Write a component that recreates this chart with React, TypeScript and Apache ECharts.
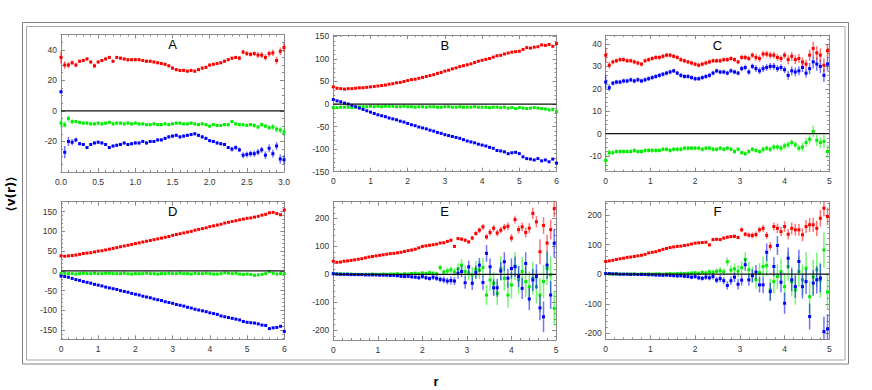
import { useEffect, useRef } from "react";
import * as echarts from "echarts";

// ---- r grids (uniform sampling step per panel) ----
const STEP_A = 0.05;
const STEP_BD = 0.1;
const STEP_CEF = 0.08;

// ---- Panel A ----
const A_RED = [35,30,30,31.5,30,32.5,33,34,32,29.5,
 32,33,34,35,32.5,35,34.5,34,33.5,33.5,
 33.5,33.5,33,32.5,32.5,32,31.5,31,30.5,29.5,
 28,27,26.5,26.5,26,26.5,26,27,28,28.5,
 30,30.5,31,31.5,32.5,33.5,34.5,35,34.5,38.5,
 37.5,37,37.5,36.5,36.5,35,37.5,38,33,39,
 41.5];
const A_GREEN = [-8,-9,-5,-7,-7,-7.5,-8,-8,-8.5,-8.5,
 -8,-8.5,-8,-7.5,-8.5,-8,-8,-8.5,-8,-8.5,
 -8,-8.5,-8.5,-9,-9,-8.5,-9,-9,-8.5,-9,
 -8.5,-8,-8,-8.5,-8.5,-8,-8.5,-9,-8.5,-9,
 -10,-9,-9.5,-9.5,-9,-9,-7,-8.5,-9,-9,
 -9.5,-9,-9.5,-10.5,-9,-10,-11,-10.5,-12,-12.5,
 -14];
const A_BLUE = [12.5,-27,-20,-20.5,-19,-21.5,-22,-24,-22,-21,
 -20.5,-21,-22,-24,-23,-22.5,-22,-21,-22,-21.5,
 -21,-21,-20,-21,-20,-20,-19,-19,-18,-17,
 -16.5,-16,-17,-16.5,-16,-15.5,-15,-16,-17,-18,
 -19.5,-20,-21,-21.5,-22,-24,-25,-24,-25.5,-29,
 -28.5,-28,-28,-27,-25.5,-29,-24.5,-28,-23,-31.5,
 -32];
const A_RED_ERR = [4,2.5,2,1.5,1.5,1,1,1,1,1.5,
 1,1,1,1,1,1,1,1,1,1,
 1,1,1,1,1,1,1,1,1,1,
 1,1,1,1,1,1,1,1,1,1,
 1,1,1,1,1,1,1,1,1.5,1.5,
 1.5,1.5,1.5,2,2,2,2,2,2.5,2.5,
 3];
const A_GREEN_ERR = [2.5,2,2,1.5,1,1,1,1,1,1,
 1,1,1,1,1,1,1,1,1,1,
 1,1,1,1,1,1,1,1,1,1,
 1,1,1,1,1,1,1,1,1,1,
 1,1,1,1,1,1,1,1,1,1,
 1,1,1.5,1.5,1.5,1.5,1.5,2,2,2,
 2.5];
const A_BLUE_ERR = [1,4,3,2,1.5,1,1,1,1,1,
 1,1,1,1,1,1,1,1,1,1,
 1,1,1,1,1,1,1,1,1,1,
 1,1,1,1,1,1,1,1,1,1,
 1,1,1,1,1,1,1.5,1.5,1.5,2,
 2,2,2,2,2,2.5,2.5,2.5,2.5,3,
 3];

// ---- Panel B ----
const B_RED = [38,35,34,33,34,34,35,36,36,37,
 38,39,40,41,42,44,45,47,48,50,
 52,54,55,57,59,61,63,65,68,70,
 73,75,78,80,83,85,87,89,92,95,
 97,99,101,104,107,108,111,113,115,116,
 117,121,125,124,126,127,131,130,132,128,
 134];
const B_GREEN = [-8,-8,-7,-7,-7,-8,-7,-6,-6,-6,
 -5,-6,-5,-6,-5,-5,-5,-6,-6,-5,
 -6,-6,-7,-6,-6,-7,-6,-6,-7,-7,
 -6,-6,-7,-7,-6,-7,-7,-7,-6,-7,
 -7,-7,-8,-7,-7,-8,-7,-9,-8,-10,
 -8,-9,-10,-9,-8,-9,-10,-11,-13,-12,
 -17];
const B_BLUE = [10,7,5,2,0,-3,-6,-9,-12,-15,
 -18,-21,-24,-26,-28,-31,-33,-35,-38,-40,
 -43,-46,-48,-51,-53,-55,-58,-60,-63,-65,
 -68,-70,-72,-74,-76,-79,-82,-84,-86,-89,
 -91,-93,-96,-98,-103,-104,-106,-110,-108,-107,
 -110,-117,-121,-122,-124,-121,-126,-124,-128,-122,
 -131];
const B_ERR = [2, 1, 2]; // red, green, blue

// ---- Panel C ----
const C_RED = [35,30.5,32,32.5,33,33,32.5,32.5,32,31.5,
 31,32.5,33,33.5,34,34,34.5,35,35,34.5,
 34,33,32.5,32,31.5,31,30.5,31,31.5,32,
 32.5,32.5,32.5,33,33,33.5,33,32,34,34,
 33.5,35,34,33.5,35.5,35.5,35,35,34,33.5,
 35,33,34.5,33,33.5,32,31,35,38,36,
 35,30.5,37];
const C_GREEN = [-12,-8.5,-8.5,-8,-8,-8,-8,-8,-7.5,-8,
 -8,-7.5,-7.5,-7.5,-7.5,-7.5,-7,-7,-7.5,-7,
 -7,-7,-6.5,-6.5,-6.5,-6.5,-6.5,-7,-6.5,-6.5,
 -7,-7,-6.5,-7,-6.5,-7,-8,-7,-8.5,-9,
 -8,-7,-7.5,-8,-7,-6.5,-7,-6,-6,-6.5,
 -5.5,-5,-4,-5,-6.5,-6,-4,-2.5,1,-3,
 -4,-3.5,-8];
const C_BLUE = [23,20.5,22.5,23,23,23.5,23.5,24,23.5,24,
 23.5,24,24.5,25,25.5,26,26.5,27,27.5,28,
 27,26,25.5,25.5,25,24.5,24.5,25,25.5,26,
 27,28,27.5,27.5,27,28,27.5,27,29,29.5,
 27.5,30,29,28,29,29.5,30,30,29,29.5,
 28.5,26,28,27.5,28,29.5,27,29,32,31,
 30,26,31];
const C_RB_ERR = [3,1.5,1,1,1,1,1,1,1,1,
 1,1,1,1,1,1,1,1,1,1,
 1,1,1,1,1,1,1,1,1,1,
 1,1,1,1,1,1,1,1,1.2,1.2,
 1.2,1.2,1.5,1.5,1.5,1.5,1.5,1.5,1.5,1.5,
 1.5,2,2,2,2,2,2,2.5,3,3,
 3,3,3];
const C_GREEN_ERR = [3,1.5,1,1,1,1,1,1,1,1,
 1,1,1,1,1,1,1,1,1,1,
 1,1,1,1,1,1,1,1,1,1,
 1,1,1,1,1,1,1,1,1,1,
 1,1,1,1,1.2,1.2,1.2,1.5,1.5,1.5,
 1.5,1.5,1.5,1.5,1.5,2,2,2,2.5,2.5,
 2.5,3,3];

// ---- Panel D ----
const D_RED = [38,37,38,39,40,42,44,45,46,48,
 50,51,53,55,57,59,61,63,65,67,
 69,71,73,75,77,79,81,83,85,87,
 90,92,94,96,98,100,103,105,107,109,
 112,114,116,118,121,123,125,127,129,131,
 133,134,136,138,141,143,147,148,145,142,
 154];
const D_GREEN = [-7,-6,-7,-7,-8,-7,-6,-7,-7,-6,
 -7,-7,-6,-6,-7,-7,-7,-6,-7,-8,
 -7,-7,-7,-6,-7,-7,-8,-7,-7,-6,
 -7,-7,-6,-7,-7,-8,-6,-7,-7,-6,
 -7,-8,-8,-7,-5,-6,-7,-6,-8,-9,
 -8,-9,-11,-10,-9,-7,-2,-6,-8,-7,
 -7];
const D_BLUE = [-13,-14,-16,-19,-22,-24,-27,-29,-31,-34,
 -36,-38,-41,-43,-45,-47,-50,-52,-54,-57,
 -59,-61,-64,-66,-68,-71,-73,-75,-78,-80,
 -82,-85,-87,-89,-92,-94,-97,-99,-101,-103,
 -106,-108,-110,-114,-116,-118,-120,-122,-124,-128,
 -130,-131,-132,-134,-137,-138,-146,-144,-143,-140,
 -153];
const D_ERR = [2, 1.5, 2];

// ---- Panel E ----
const E_RED = [47,43,44,47,48,50,52,54,56,59,
 62,64,66,68,70,72,74,75,77,79,
 82,85,87,90,95,100,102,104,106,108,
 112,113,118,122,100,128,126,122,116,130,
 146,158,170,134,150,165,148,158,168,172,
 130,196,160,170,150,165,218,188,81,175,
 112,160,235];
const E_GREEN = [3,2,2,1,1,1,0,0,0,0,
 0,1,0,0,1,0,1,1,2,0,
 2,1,3,4,2,5,3,6,4,2,
 24,8,12,16,8,20,33,10,5,-2,
 18,15,25,-74,-20,-32,-68,20,-14,-74,
 -38,30,-20,10,-26,-44,-14,-44,-74,-26,
 21,-2,-122];
const E_BLUE = [2,1,0,0,0,-1,-1,-1,-1,-2,
 -2,-2,-2,-3,-3,-3,-4,-4,-5,-7,
 -8,-7,-9,-10,-12,-8,-12,-15,-10,-14,
 -18,-20,-24,-22,-24,4,10,-30,27,-32,
 7,33,-29,75,27,-48,-48,12,45,-14,
 21,27,-8,-50,39,-88,-20,-8,-120,-152,
 33,-74,111];
const E_RED_ERR = [3,2,2,2,2,2,2,2,2,2,
 2,2,2,2,2,2,2,2,2,2,
 2,2,2,2,3,3,3,3,3,3,
 3,4,4,5,5,6,6,6,6,8,
 8,10,10,10,12,12,12,12,12,14,
 14,14,14,16,18,18,20,20,45,30,
 30,35,30];
const E_GREEN_ERR = [2,2,2,2,2,2,2,2,2,2,
 2,2,2,2,3,3,3,3,3,4,
 4,4,5,5,5,6,6,7,7,8,
 10,10,12,12,14,20,22,22,26,28,
 30,32,34,36,38,40,42,44,44,46,
 48,50,50,52,55,55,58,60,60,60,
 60,65,60];
const E_BLUE_ERR = [3,3,3,3,3,3,3,3,3,3,
 3,3,3,3,3,4,4,4,5,5,
 5,6,6,6,7,8,8,8,10,10,
 10,12,12,14,14,20,20,22,22,24,
 24,26,26,30,30,30,32,32,34,34,
 36,36,38,38,40,40,40,44,44,55,
 50,50,50];

// ---- Panel F ----
const F_RED = [43,45,47,50,52,54,57,58,60,62,
 64,67,72,74,76,80,84,87,90,92,
 94,95,97,99,102,105,106,107,108,99,
 117,118,117,122,125,127,128,124,150,135,
 132,131,134,150,155,131,94,161,155,144,
 161,135,155,150,150,133,161,167,167,155,
 189,223,195];
const F_GREEN = [2,1,1,1,0,0,0,1,0,0,
 1,0,1,0,1,1,0,1,2,1,
 2,3,2,3,4,5,3,6,4,8,
 6,10,12,8,42,14,18,10,22,50,
 15,-2,-19,5,26,30,-53,-25,-8,9,
 -42,26,-25,-53,9,-19,20,-76,-10,15,
 -20,82,-60];
const F_BLUE = [2,2,1,1,0,0,0,-1,0,-1,
 -1,-1,-2,-2,-3,-3,-4,-3,-4,-5,
 -6,-5,-7,-8,-10,-8,-12,-14,-10,-12,
 -8,-20,-15,-22,-38,-22,-10,-34,-20,32,
 -19,-5,7,-36,-36,74,-59,26,97,-27,
 -98,54,-19,-42,43,-42,-25,-143,-30,-19,
 -13,-194,-185];
const F_RED_ERR = [2,2,2,2,2,2,2,2,2,2,
 2,2,2,2,2,2,2,2,2,2,
 2,2,2,3,3,3,3,3,3,3,
 4,4,4,5,5,5,6,6,8,8,
 8,10,10,10,12,12,14,14,16,16,
 18,18,20,20,20,22,22,24,24,26,
 28,28,30];
const F_GREEN_ERR = [2,2,2,2,2,2,2,2,2,2,
 2,2,2,3,3,3,3,3,4,4,
 4,5,5,5,6,6,7,7,8,8,
 10,10,12,12,14,16,18,20,22,24,
 26,28,30,32,34,36,38,40,42,44,
 46,48,50,50,52,52,55,55,58,58,
 60,60,60];
const F_BLUE_ERR = [3,3,3,3,3,3,3,3,3,3,
 3,3,3,3,3,4,4,4,5,5,
 5,6,6,6,7,7,8,8,9,9,
 10,10,12,12,14,14,16,18,18,20,
 20,22,24,26,28,30,30,32,32,34,
 36,36,38,38,40,40,42,44,44,46,
 48,50,50];

const PANEL_LABELS = ["A", "B", "C", "D", "E", "F"];
const Y_TITLE = "⟨v(r)⟩";
const X_TITLE = "r";

const RED = "#ff0000";
const GREEN = "#00ee00";
const BLUE = "#0000ff";
const FRAME = "#8a8a8a";
const FONT = "'Liberation Sans', Arial, sans-serif";

type S = { vals: number[]; err: number[] | number; step: number; color: string };
type P = {
  left: number; top: number; width: number; height: number;
  xMax: number; xInt: number; xDec: number;
  yMin: number; yMax: number; yInt?: number; yMinor: number; showMinY: boolean;
  series: S[];
};

const PANELS: P[] = [
  { left: 61, top: 34.5, width: 223, height: 137.5, xMax: 3, xInt: 0.5, xDec: 1,
    yMin: -40, yMax: 50, yInt: 20, yMinor: 4, showMinY: false,
    series: [
      { vals: A_GREEN, err: A_GREEN_ERR, step: STEP_A, color: GREEN },
      { vals: A_BLUE, err: A_BLUE_ERR, step: STEP_A, color: BLUE },
      { vals: A_RED, err: A_RED_ERR, step: STEP_A, color: RED },
    ] },
  { left: 333.3, top: 35, width: 223.2, height: 136.7, xMax: 6, xInt: 1, xDec: 0,
    yMin: -150, yMax: 153, yInt: 50, yMinor: 5, showMinY: true,
    series: [
      { vals: B_GREEN, err: B_ERR[1], step: STEP_BD, color: GREEN },
      { vals: B_BLUE, err: B_ERR[2], step: STEP_BD, color: BLUE },
      { vals: B_RED, err: B_ERR[0], step: STEP_BD, color: RED },
    ] },
  { left: 605.7, top: 35, width: 223.6, height: 136.7, xMax: 5, xInt: 1, xDec: 0,
    yMin: -17, yMax: 44, yMinor: 5, showMinY: false,
    series: [
      { vals: C_GREEN, err: C_GREEN_ERR, step: STEP_CEF, color: GREEN },
      { vals: C_BLUE, err: C_RB_ERR, step: STEP_CEF, color: BLUE },
      { vals: C_RED, err: C_RB_ERR, step: STEP_CEF, color: RED },
    ] },
  { left: 61, top: 201.7, width: 223.3, height: 137.6, xMax: 6, xInt: 1, xDec: 0,
    yMin: -173, yMax: 175, yMinor: 5, showMinY: false,
    series: [
      { vals: D_GREEN, err: D_ERR[1], step: STEP_BD, color: GREEN },
      { vals: D_BLUE, err: D_ERR[2], step: STEP_BD, color: BLUE },
      { vals: D_RED, err: D_ERR[0], step: STEP_BD, color: RED },
    ] },
  { left: 333.3, top: 201.7, width: 222.7, height: 138.3, xMax: 5, xInt: 1, xDec: 0,
    yMin: -235, yMax: 260, yMinor: 5, showMinY: false,
    series: [
      { vals: E_GREEN, err: E_GREEN_ERR, step: STEP_CEF, color: GREEN },
      { vals: E_BLUE, err: E_BLUE_ERR, step: STEP_CEF, color: BLUE },
      { vals: E_RED, err: E_RED_ERR, step: STEP_CEF, color: RED },
    ] },
  { left: 605.7, top: 201.7, width: 223.6, height: 137.6, xMax: 5, xInt: 1, xDec: 0,
    yMin: -220, yMax: 245, yMinor: 5, showMinY: false,
    series: [
      { vals: F_GREEN, err: F_GREEN_ERR, step: STEP_CEF, color: GREEN },
      { vals: F_BLUE, err: F_BLUE_ERR, step: STEP_CEF, color: BLUE },
      { vals: F_RED, err: F_RED_ERR, step: STEP_CEF, color: RED },
    ] },
];

function toPoints(s: S) {
  return s.vals.map((v, i) => [
    Math.round(i * s.step * 1000) / 1000,
    v,
    typeof s.err === "number" ? s.err : s.err[i],
  ]);
}

function makeRender(color: string) {
  return (params: any, api: any) => {
    const x = api.value(0);
    const y = api.value(1);
    const e = api.value(2);
    const cs = params.coordSys;
    const top = cs.y;
    const bottom = cs.y + cs.height;
    const p = api.coord([x, y]);
    const hi = Math.max(top, Math.min(bottom, api.coord([x, y + e])[1]));
    const lo = Math.max(top, Math.min(bottom, api.coord([x, y - e])[1]));
    const children: any[] = [];
    if (lo - hi > 0.5) {
      children.push({
        type: "line",
        shape: { x1: p[0], y1: hi, x2: p[0], y2: lo },
        style: { stroke: color, lineWidth: 1.5, opacity: 0.55 },
      });
    }
    if (p[1] >= top - 1 && p[1] <= bottom + 1) {
      children.push({
        type: "rect",
        shape: { x: p[0] - 1.5, y: p[1] - 1.5, width: 3, height: 3 },
        style: { fill: color },
      });
    }
    return { type: "group", children };
  };
}

export default function App() {
  const ref = useRef<HTMLDivElement>(null);
  useEffect(() => {
    document.body.style.margin = "0";
    const chart = echarts.init(ref.current!, null, { renderer: "svg" });
    const grid: any[] = [];
    const xAxis: any[] = [];
    const yAxis: any[] = [];
    const series: any[] = [];
    const graphic: any[] = [
      { type: "rect", shape: { x: 22.5, y: 22.5, width: 826, height: 341.5 },
        style: { fill: "none", stroke: "#808080", lineWidth: 1 }, silent: true },
      { type: "rect", shape: { x: 26.5, y: 26.5, width: 818.5, height: 333.5 },
        style: { fill: "none", stroke: "#a8a8a8", lineWidth: 1 }, silent: true },
      { type: "text", x: 11, y: 194, rotation: Math.PI / 2,
        style: { text: Y_TITLE, fill: "#000", font: "bold 12px 'DejaVu Sans', sans-serif",
          textAlign: "center", textVerticalAlign: "middle", align: "center", verticalAlign: "middle" } },
      { type: "text", x: 436, y: 381,
        style: { text: X_TITLE, fill: "#000", font: "bold 13px 'Liberation Sans', Arial, sans-serif",
          textAlign: "center", textVerticalAlign: "middle", align: "center", verticalAlign: "middle" } },
    ];
    const tickStyle = { color: FRAME, width: 1 };
    PANELS.forEach((p, k) => {
      grid.push({ left: p.left, top: p.top, width: p.width, height: p.height, containLabel: false });
      const xBase = {
        gridIndex: k, type: "value", min: 0, max: p.xMax, interval: p.xInt,
        axisLine: { show: true, onZero: false, lineStyle: tickStyle },
        axisTick: { show: true, inside: true, length: 4, lineStyle: tickStyle },
        minorTick: { show: true, splitNumber: 5, length: 2, lineStyle: tickStyle },
        splitLine: { show: false }, minorSplitLine: { show: false },
      };
      xAxis.push({ ...xBase, position: "bottom",
        axisLabel: { show: true, fontSize: 8.5, color: "#333", fontFamily: FONT, margin: 5,
          showMinLabel: true, showMaxLabel: true,
          formatter: (v: number) => v.toFixed(p.xDec) } });
      xAxis.push({ ...xBase, position: "top", axisLabel: { show: false } });
      const yBase: any = {
        gridIndex: k, type: "value", min: p.yMin, max: p.yMax, splitNumber: 5,
        axisLine: { show: true, onZero: false, lineStyle: tickStyle },
        axisTick: { show: true, inside: true, length: 4, lineStyle: tickStyle },
        minorTick: { show: true, splitNumber: p.yMinor, length: 2, lineStyle: tickStyle },
        splitLine: { show: false }, minorSplitLine: { show: false },
      };
      if (p.yInt !== undefined) yBase.interval = p.yInt;
      yAxis.push({ ...yBase, position: "left",
        axisLabel: { show: true, fontSize: 8.5, color: "#333", fontFamily: FONT, margin: 4,
          showMinLabel: p.showMinY, showMaxLabel: false } });
      yAxis.push({ ...yBase, position: "right", axisLabel: { show: false } });
      p.series.forEach((s) => {
        series.push({
          type: "custom", coordinateSystem: "cartesian2d",
          xAxisIndex: 2 * k, yAxisIndex: 2 * k,
          data: toPoints(s), encode: { x: 0, y: 1 },
          renderItem: makeRender(s.color), silent: true, z: 2,
        });
      });
      series.push({
        type: "line", xAxisIndex: 2 * k, yAxisIndex: 2 * k,
        data: [[0, 0], [p.xMax, 0]], symbol: "none", silent: true, z: 5,
        lineStyle: { color: "#111", width: 1.2 },
      });
      graphic.push({ type: "text", x: p.left + p.width / 2, y: p.top + 10,
        style: { text: PANEL_LABELS[k], fill: "#000", font: "13px 'Liberation Sans', Arial, sans-serif",
          textAlign: "center", textVerticalAlign: "middle", align: "center", verticalAlign: "middle" } });
    });
    chart.setOption({
      animation: false,
      backgroundColor: "#fff",
      grid, xAxis, yAxis, series, graphic,
    });
    return () => chart.dispose();
  }, []);
  return <div ref={ref} style={{ width: 872, height: 390 }} />;
}
